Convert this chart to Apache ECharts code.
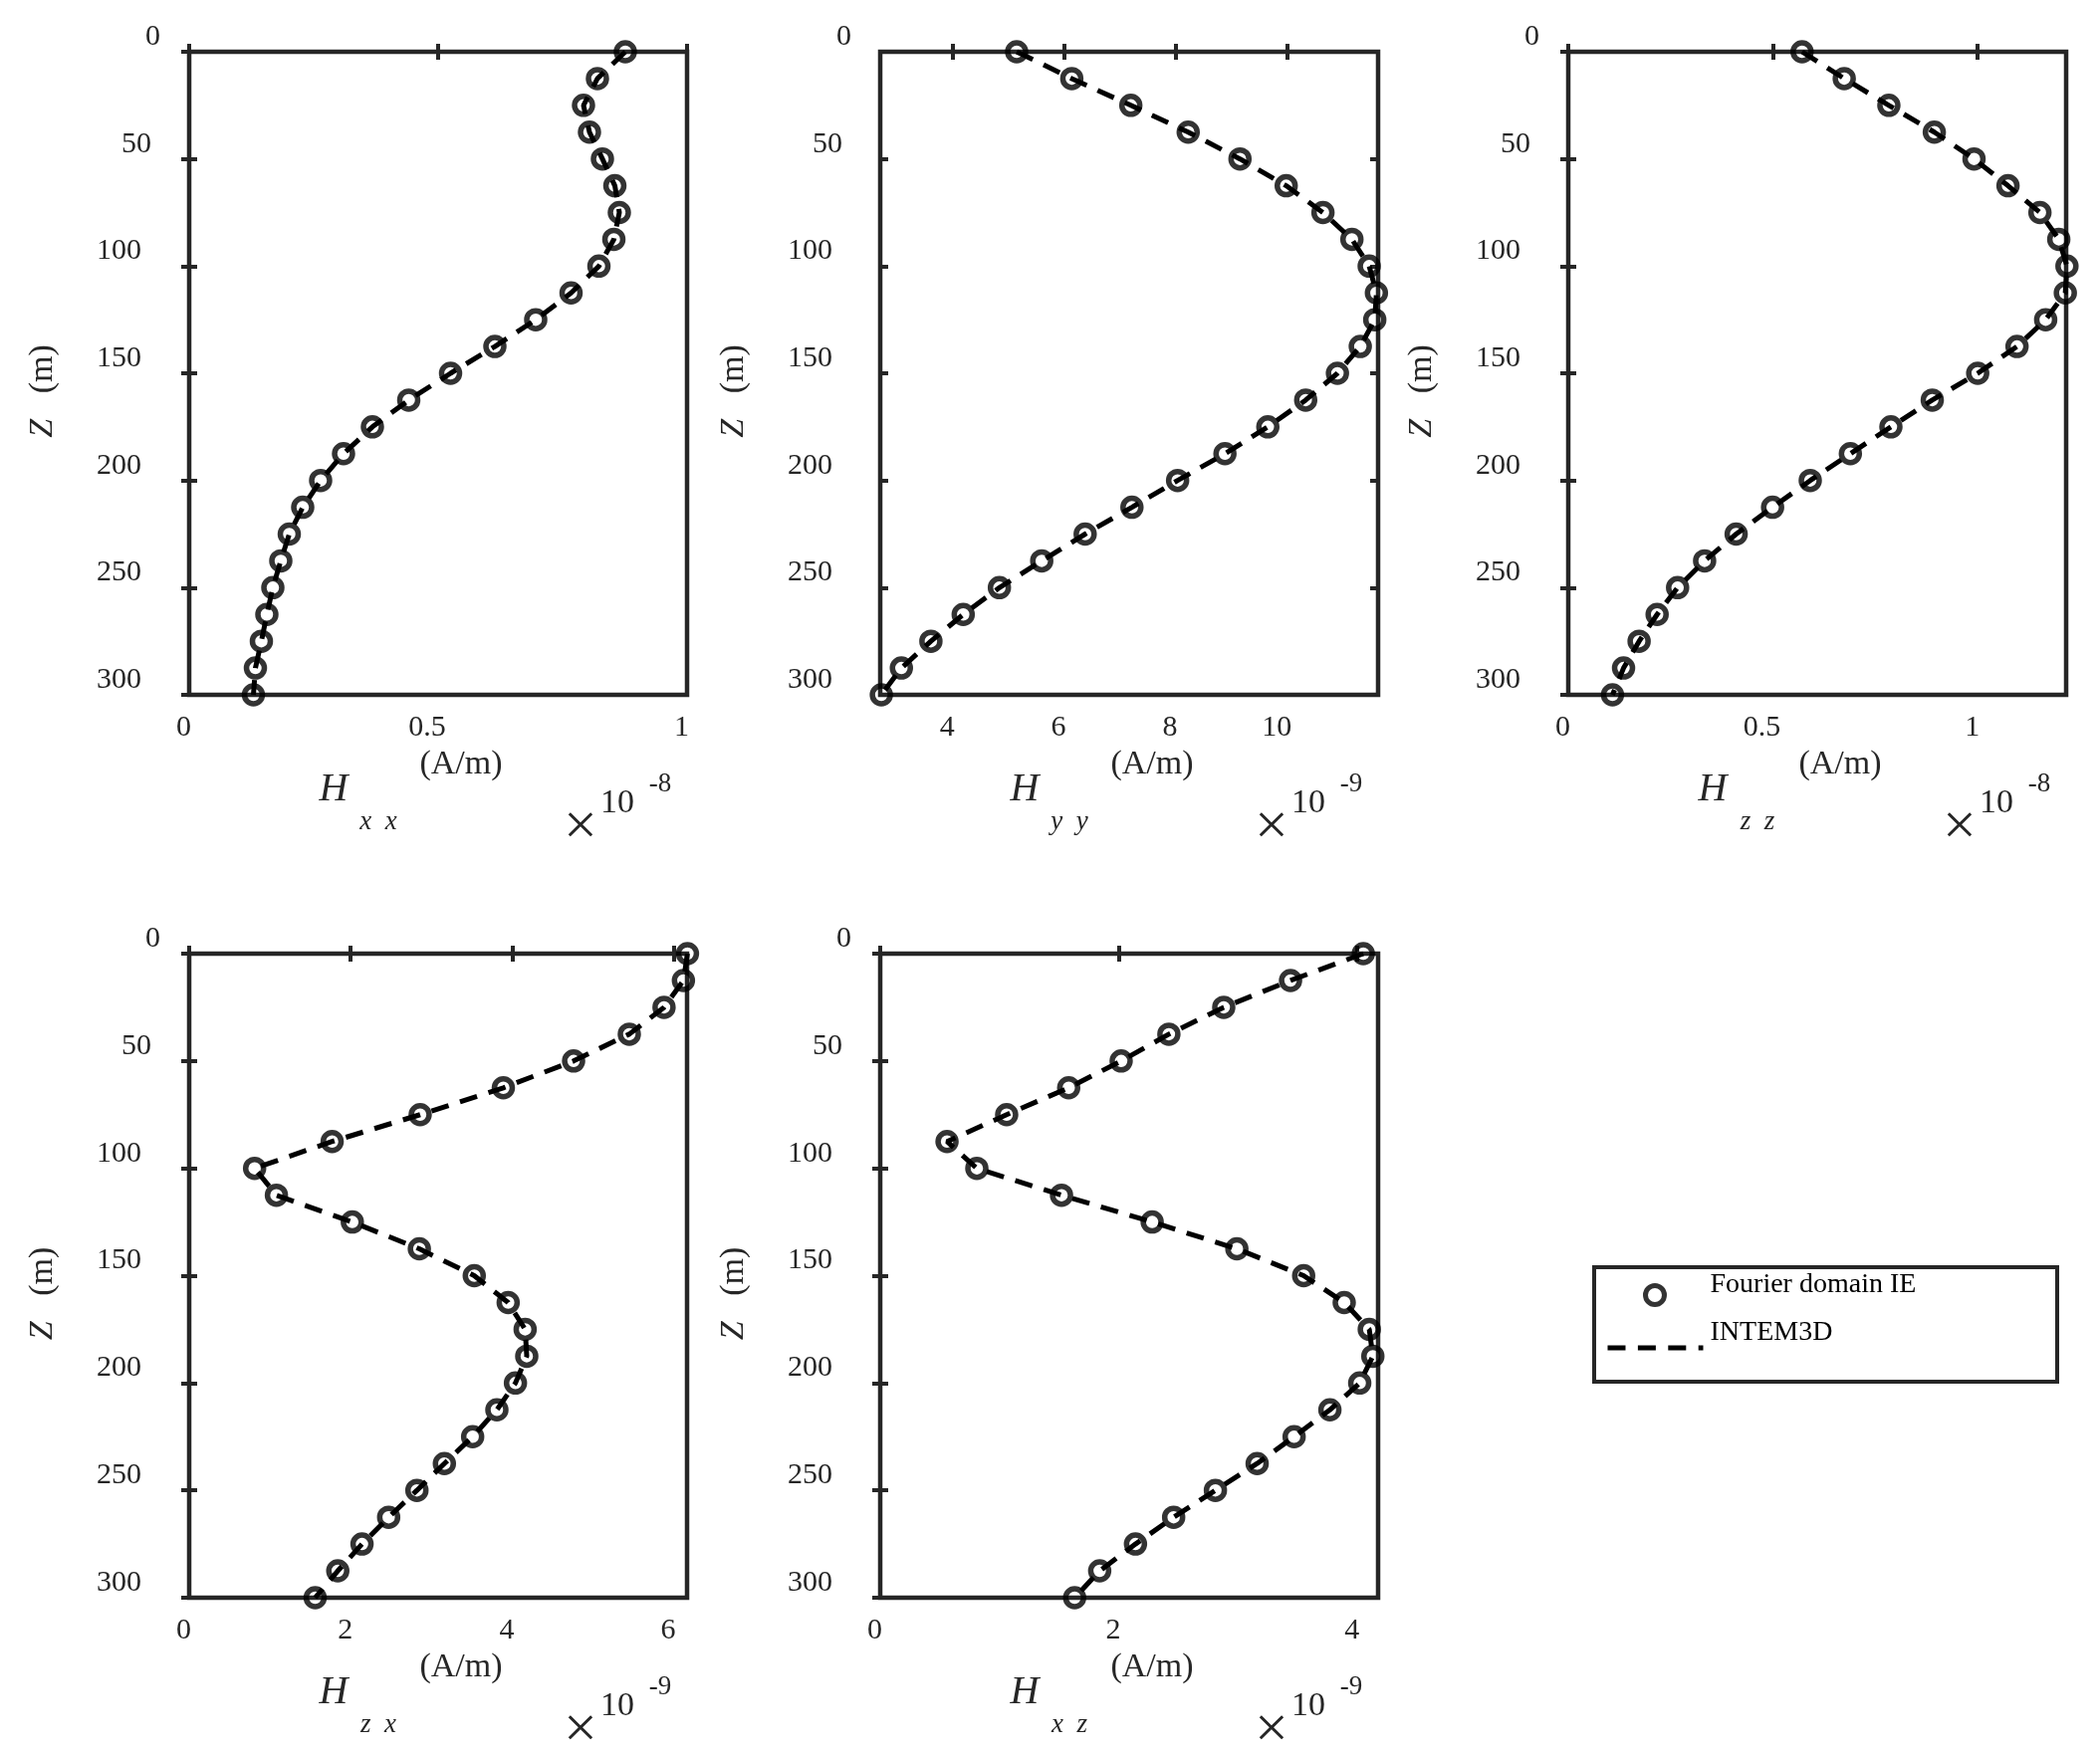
<!DOCTYPE html>
<html>
<head>
<meta charset="utf-8">
<title>H profiles vs depth</title>
<script src="https://cdn.jsdelivr.net/npm/echarts@6/dist/echarts.min.js"></script>
<style>
  html, body { margin: 0; padding: 0; background: #fff; }
  #chart { width: 2109px; height: 1760px; }
</style>
</head>
<body>
<div id="chart"></div>
<script>
  // depth of each sample, metres
  let depth = [0, 12.5, 25, 37.5, 50, 62.5, 75, 87.5, 100, 112.5, 125, 137.5, 150,
    162.5, 175, 187.5, 200, 212.5, 225, 237.5, 250, 262.5, 275, 287.5, 300];

  // field values (A/m), in units of the axis multiplier
  let hxx = [0.876, 0.820, 0.792, 0.804, 0.830, 0.855, 0.864, 0.853, 0.823, 0.767, 0.696, 0.614, 0.525,
    0.441, 0.368, 0.310, 0.264, 0.228, 0.201, 0.184, 0.168, 0.156, 0.145, 0.133, 0.129];
  let hyy = [5.15, 6.14, 7.20, 8.23, 9.16, 9.99, 10.65, 11.17, 11.48, 11.61, 11.58, 11.32, 10.91,
    10.34, 9.66, 8.89, 8.04, 7.22, 6.38, 5.60, 4.84, 4.19, 3.61, 3.08, 2.72];
  let hzz = [0.571, 0.674, 0.783, 0.894, 0.991, 1.074, 1.152, 1.198, 1.218, 1.214, 1.166, 1.096, 1.000,
    0.889, 0.788, 0.689, 0.591, 0.499, 0.410, 0.333, 0.267, 0.217, 0.173, 0.135, 0.108];
  let hzx = [6.17, 6.12, 5.88, 5.45, 4.76, 3.89, 2.86, 1.77, 0.81, 1.08, 2.02, 2.85, 3.53,
    3.95, 4.16, 4.18, 4.04, 3.81, 3.51, 3.16, 2.82, 2.47, 2.14, 1.84, 1.56];
  let hxz = [4.05, 3.44, 2.88, 2.42, 2.02, 1.58, 1.06, 0.56, 0.81, 1.52, 2.28, 2.99, 3.55,
    3.89, 4.10, 4.13, 4.02, 3.77, 3.47, 3.16, 2.81, 2.46, 2.14, 1.84, 1.63];

  // x tick labels and limits per panel
  let ticksXX = [0, 0.5, 1];
  let ticksYY = [4, 6, 8, 10];
  let ticksZZ = [0, 0.5, 1];
  let ticksZX = [0, 2, 4, 6];
  let ticksXZ = [0, 2, 4];
  let limXX = [0, 1];
  let limYY = [2.70, 11.64];
  let limZZ = [0, 1.216];
  let limZX = [0, 6.165];
  let limXZ = [0, 4.174];
  let depthTicks = [0, 50, 100, 150, 200, 250, 300];

  const FONT = '"Liberation Serif", "Times New Roman", serif';
  const INK = '#262626';

  let panels = [
    { vals: hxx, lim: limXX, ticks: ticksXX, sub: 'x  x', exp: '-8', box: [190, 52, 500, 646] },
    { vals: hyy, lim: limYY, ticks: ticksYY, sub: 'y  y', exp: '-9', box: [884, 52, 500, 646] },
    { vals: hzz, lim: limZZ, ticks: ticksZZ, sub: 'z  z', exp: '-8', box: [1575, 52, 500, 646] },
    { vals: hzx, lim: limZX, ticks: ticksZX, sub: 'z  x', exp: '-9', box: [190, 958, 500, 647] },
    { vals: hxz, lim: limXZ, ticks: ticksXZ, sub: 'x  z', exp: '-9', box: [884, 958, 500, 647] }
  ];

  let tickStyle = { show: true, inside: true, length: 8, lineStyle: { color: INK, width: 4 } };

  // labels in the original are nudged left a bit, more for longer strings
  let xRich = {
    l1: { fontFamily: FONT, fontSize: 30, color: INK, padding: [0, 11, 0, 0] },
    l2: { fontFamily: FONT, fontSize: 30, color: INK, padding: [0, 20, 0, 0] },
    l3: { fontFamily: FONT, fontSize: 30, color: INK, padding: [0, 22, 0, 0] }
  };
  let yRich = {
    l1: { fontFamily: FONT, fontSize: 30, color: INK, padding: [0, 0, 0, 0] },
    l2: { fontFamily: FONT, fontSize: 30, color: INK, padding: [0, 9, 0, 0] },
    l3: { fontFamily: FONT, fontSize: 30, color: INK, padding: [0, 19, 0, 0] }
  };
  function richLabel(v) {
    let s = String(v);
    return '{l' + s.length + '|' + s + '}';
  }

  let grid = [], xAxis = [], yAxis = [], series = [], graphic = [];

  panels.forEach(function (p, i) {
    let L = p.box[0], T = p.box[1], W = p.box[2], H = p.box[3];
    let B = T + H;
    grid.push({ left: L, top: T, width: W, height: H, show: true,
      borderColor: INK, borderWidth: 4.5, backgroundColor: 'transparent' });

    xAxis.push({
      gridIndex: i, type: 'value', position: 'bottom', min: p.lim[0], max: p.lim[1],
      axisLine: { show: false }, splitLine: { show: false },
      axisTick: Object.assign({ customValues: p.ticks }, tickStyle),
      axisLabel: { customValues: p.ticks, margin: 18, formatter: richLabel, rich: xRich,
        fontFamily: FONT, fontSize: 30, color: INK }
    });
    xAxis.push({
      gridIndex: i, type: 'value', position: 'top', min: p.lim[0], max: p.lim[1],
      axisLine: { show: false }, splitLine: { show: false },
      axisTick: Object.assign({ customValues: p.ticks }, tickStyle),
      axisLabel: { show: false }
    });
    yAxis.push({
      gridIndex: i, type: 'value', position: 'left', inverse: true, min: 0, max: 300,
      axisLine: { show: false }, splitLine: { show: false },
      axisTick: Object.assign({ customValues: depthTicks }, tickStyle),
      axisLabel: { customValues: depthTicks, margin: 29, verticalAlign: 'bottom',
        formatter: richLabel, rich: yRich, fontFamily: FONT, fontSize: 30, color: INK }
    });
    yAxis.push({
      gridIndex: i, type: 'value', position: 'right', inverse: true, min: 0, max: 300,
      axisLine: { show: false }, splitLine: { show: false },
      axisTick: Object.assign({ customValues: depthTicks }, tickStyle),
      axisLabel: { show: false }
    });

    let pts = depth.map(function (z, k) { return [p.vals[k], z]; });
    series.push({
      name: 'INTEM3D', type: 'line', xAxisIndex: 2 * i, yAxisIndex: 2 * i,
      data: pts, symbol: 'none', clip: false, z: 3,
      itemStyle: { color: '#000' },
      lineStyle: { color: '#000', width: 5, type: [18, 12] }
    });
    series.push({
      name: 'Fourier domain IE', type: 'scatter', xAxisIndex: 2 * i, yAxisIndex: 2 * i,
      data: pts, symbol: 'circle', symbolSize: 18, clip: false, z: 4,
      itemStyle: { color: 'rgba(0,0,0,0)', borderColor: '#000', borderWidth: 5.5 }
    });

    // axis titles drawn as text
    graphic.push({
      type: 'text', x: L - 147, y: T + H / 2 + 18, rotation: Math.PI / 2, silent: true,
      style: { text: '{i|Z}   {n|(m)}', align: 'center', verticalAlign: 'middle',
        font: '34px ' + FONT, fill: INK,
        rich: { i: { font: 'italic 34px ' + FONT, fill: INK }, n: { font: '34px ' + FONT, fill: INK } } }
    });
    graphic.push({ type: 'text', x: L + 273, y: B + 70, silent: true,
      style: { text: '(A/m)', align: 'center', verticalAlign: 'middle', font: '34px ' + FONT, fill: INK } });
    graphic.push({ type: 'text', x: L + 145, y: B + 95, silent: true,
      style: { text: 'H', align: 'center', verticalAlign: 'middle', font: 'italic 40px ' + FONT, fill: INK } });
    graphic.push({ type: 'text', x: L + 190, y: B + 128, silent: true,
      style: { text: p.sub, align: 'center', verticalAlign: 'middle', font: 'italic 27px ' + FONT, fill: INK } });
    graphic.push({ type: 'text', x: L + 393, y: B + 134, silent: true,
      style: { text: '×', align: 'center', verticalAlign: 'middle', font: '60px ' + FONT, fill: INK } });
    graphic.push({ type: 'text', x: L + 430, y: B + 109, silent: true,
      style: { text: '10', align: 'center', verticalAlign: 'middle', font: '34px ' + FONT, fill: INK } });
    graphic.push({ type: 'text', x: L + 473, y: B + 90, silent: true,
      style: { text: p.exp, align: 'center', verticalAlign: 'middle', font: '27px ' + FONT, fill: INK } });
  });

  // legend frame
  graphic.push({ type: 'rect', silent: true, shape: { x: 1601, y: 1273, width: 465, height: 115 },
    style: { fill: 'none', stroke: INK, lineWidth: 4 } });

  // legend text sits a little above its key, as in the original
  function raised(name) { return '{a|' + name + '}\n{b| }'; }

  let chart = echarts.init(document.getElementById('chart'));
  chart.setOption({
    animation: false,
    backgroundColor: '#fff',
    grid: grid,
    xAxis: xAxis,
    yAxis: yAxis,
    series: series,
    graphic: graphic,
    legend: [
      {
        data: [{ name: 'Fourier domain IE', icon: 'circle',
          itemStyle: { color: 'rgba(0,0,0,0)', borderColor: '#000', borderWidth: 5 } }],
        left: 1650, top: 1277, padding: 0, itemWidth: 19, itemHeight: 19, selectedMode: false,
        formatter: raised,
        textStyle: { rich: {
          a: { fontFamily: FONT, fontSize: 28, lineHeight: 34, color: '#000', padding: [0, 0, 0, 41] },
          b: { fontSize: 8, lineHeight: 20 } } }
      },
      {
        data: [{ name: 'INTEM3D', itemStyle: { color: 'rgba(0,0,0,0)', borderWidth: 0, opacity: 0 } }],
        left: 1612, top: 1325, padding: 0, itemWidth: 96, itemHeight: 14, selectedMode: false,
        lineStyle: { color: '#000', width: 5, type: [18, 12.4], opacity: 1 },
        formatter: raised,
        textStyle: { rich: {
          a: { fontFamily: FONT, fontSize: 28, lineHeight: 34, color: '#000', padding: [0, 0, 0, 2] },
          b: { fontSize: 8, lineHeight: 30 } } }
      }
    ]
  });
</script>
</body>
</html>
